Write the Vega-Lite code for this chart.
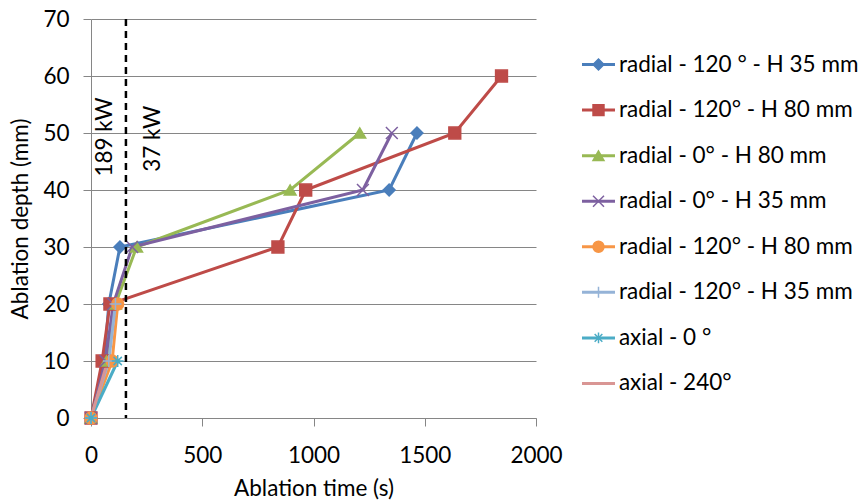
{
  "$schema": "https://vega.github.io/schema/vega-lite/v6.json",
  "padding": {"left": 9, "top": 8, "right": 0, "bottom": 0},
  "bounds": "flush",
  "spacing": 46,
  "config": {"font": "Lato", "view": {"stroke": null}},
  "datasets": {
    "pts": [
      {"id": "s1", "t": 0, "d": 0}, {"id": "s1", "t": 60, "d": 10}, {"id": "s1", "t": 80, "d": 20}, {"id": "s1", "t": 130, "d": 30}, {"id": "s1", "t": 1340, "d": 40}, {"id": "s1", "t": 1465, "d": 50},
      {"id": "s2", "t": 0, "d": 0}, {"id": "s2", "t": 50, "d": 10}, {"id": "s2", "t": 85, "d": 20}, {"id": "s2", "t": 840, "d": 30}, {"id": "s2", "t": 965, "d": 40}, {"id": "s2", "t": 1635, "d": 50}, {"id": "s2", "t": 1845, "d": 60},
      {"id": "s3", "t": 0, "d": 0}, {"id": "s3", "t": 70, "d": 10}, {"id": "s3", "t": 110, "d": 20}, {"id": "s3", "t": 205, "d": 30}, {"id": "s3", "t": 895, "d": 40}, {"id": "s3", "t": 1208, "d": 50},
      {"id": "s4", "t": 0, "d": 0}, {"id": "s4", "t": 65, "d": 10}, {"id": "s4", "t": 100, "d": 20}, {"id": "s4", "t": 185, "d": 30}, {"id": "s4", "t": 1222, "d": 40}, {"id": "s4", "t": 1352, "d": 50},
      {"id": "s5", "t": 0, "d": 0}, {"id": "s5", "t": 95, "d": 10}, {"id": "s5", "t": 120, "d": 20},
      {"id": "s6", "t": 0, "d": 0}, {"id": "s6", "t": 80, "d": 10}, {"id": "s6", "t": 110, "d": 20},
      {"id": "s7", "t": 0, "d": 0}, {"id": "s7", "t": 120, "d": 10},
      {"id": "s8", "t": 0, "d": 0}, {"id": "s8", "t": 75, "d": 10}
    ],
    "names": [
      {"id": "s1", "label": "radial - 120 ° - H 35 mm"},
      {"id": "s2", "label": "radial - 120° - H 80 mm"},
      {"id": "s3", "label": "radial - 0° - H 80 mm"},
      {"id": "s4", "label": "radial - 0° - H 35 mm"},
      {"id": "s5", "label": "radial - 120° - H 80 mm"},
      {"id": "s6", "label": "radial - 120° - H 35 mm"},
      {"id": "s7", "label": "axial - 0 °"},
      {"id": "s8", "label": "axial - 240°"}
    ],
    "one": [{}]
  },
  "hconcat": [
    {
      "width": 445,
      "height": 399,
      "layer": [
        {
          "data": {"name": "pts"},
          "mark": {"type": "line", "strokeWidth": 3},
          "encoding": {
            "x": {"field": "t", "type": "quantitative", "scale": {"domain": [0, 2000]},
              "axis": {"title": "Ablation time (s)", "values": [0, 500, 1000, 1500, 2000], "format": "d", "grid": false, "labelFontSize": 22.5, "titleFontSize": 22.5, "titleFontWeight": "normal", "labelColor": "#000", "titleColor": "#000", "domainColor": "#868686", "tickColor": "#868686", "tickSize": 8, "labelPadding": 18, "titlePadding": 11, "labelFlush": false}},
            "y": {"field": "d", "type": "quantitative", "scale": {"domain": [0, 70]},
              "axis": {"title": "Ablation depth (mm)", "values": [0, 10, 20, 30, 40, 50, 60, 70], "grid": true, "gridColor": "#868686", "labelFontSize": 22.5, "titleFontSize": 22.5, "titleFontWeight": "normal", "labelColor": "#000", "titleColor": "#000", "domainColor": "#868686", "tickColor": "#868686", "tickSize": 8, "labelPadding": 14, "titlePadding": 10}},
            "color": {"field": "id", "type": "nominal", "legend": null,
              "scale": {"domain": ["s1", "s2", "s3", "s4", "s5", "s6", "s7", "s8"], "range": ["#4A7EBB", "#BE4B48", "#98B954", "#7D60A0", "#F79646", "#95B3D7", "#4BACC6", "#D99694"]}}
          }
        },
        {
          "data": {"name": "pts"},
          "transform": [{"filter": "datum.id !== 's8'"}],
          "mark": {"type": "point", "filled": true, "opacity": 1, "strokeWidth": 1.5, "size": 140},
          "encoding": {
            "x": {"field": "t", "type": "quantitative"},
            "y": {"field": "d", "type": "quantitative"},
            "color": {"field": "id", "type": "nominal", "legend": null},
            "stroke": {"field": "id", "type": "nominal", "legend": null,
              "scale": {"domain": ["s1", "s2", "s3", "s4", "s5", "s6", "s7", "s8"], "range": ["#4A7EBB", "#BE4B48", "#98B954", "#7D60A0", "#F79646", "#95B3D7", "#4BACC6", "#D99694"]}},
            "shape": {"field": "id", "type": "nominal", "legend": null,
              "scale": {"domain": ["s1", "s2", "s3", "s4", "s5", "s6", "s7"], "range": ["diamond", "square", "triangle-up", "M-1,-1L1,1M-1,1L1,-1", "circle", "M-1,0L1,0M0,-1L0,1", "M-1,0L1,0M0,-1L0,1M-0.7,-0.7L0.7,0.7M-0.7,0.7L0.7,-0.7"]}}
          }
        },
        {
          "data": {"name": "one"},
          "mark": {"type": "rule", "strokeDash": [7, 5], "strokeWidth": 2.5, "color": "#000"},
          "encoding": {"x": {"datum": 157, "type": "quantitative"}}
        },
        {
          "data": {"name": "one"},
          "mark": {"type": "text", "text": "189 kW", "angle": 270, "fontSize": 22.5, "align": "center", "baseline": "middle", "color": "#000"},
          "encoding": {"x": {"datum": 63, "type": "quantitative"}, "y": {"datum": 49.3, "type": "quantitative"}}
        },
        {
          "data": {"name": "one"},
          "mark": {"type": "text", "text": "37 kW", "angle": 270, "fontSize": 22.5, "align": "center", "baseline": "middle", "color": "#000"},
          "encoding": {"x": {"datum": 277, "type": "quantitative"}, "y": {"datum": 49, "type": "quantitative"}}
        }
      ]
    },
    {
      "width": 282,
      "height": 410,
      "data": {"name": "names"},
      "layer": [
        {
          "mark": {"type": "rule", "strokeWidth": 3},
          "encoding": {
            "x": {"datum": 0, "type": "quantitative", "scale": {"domain": [0, 10]}, "axis": null},
            "x2": {"datum": 1.17},
            "y": {"field": "id", "type": "nominal", "scale": {"type": "point", "domain": ["s1", "s2", "s3", "s4", "s5", "s6", "s7", "s8"], "padding": 1}, "axis": null},
            "color": {"field": "id", "type": "nominal", "legend": null,
              "scale": {"domain": ["s1", "s2", "s3", "s4", "s5", "s6", "s7", "s8"], "range": ["#4A7EBB", "#BE4B48", "#98B954", "#7D60A0", "#F79646", "#95B3D7", "#4BACC6", "#D99694"]}}
          }
        },
        {
          "transform": [{"filter": "datum.id !== 's8'"}],
          "mark": {"type": "point", "filled": true, "opacity": 1, "strokeWidth": 1.5, "size": 120},
          "encoding": {
            "x": {"datum": 0.585, "type": "quantitative"},
            "y": {"field": "id", "type": "nominal"},
            "color": {"field": "id", "type": "nominal", "legend": null},
            "stroke": {"field": "id", "type": "nominal", "legend": null,
              "scale": {"domain": ["s1", "s2", "s3", "s4", "s5", "s6", "s7", "s8"], "range": ["#4A7EBB", "#BE4B48", "#98B954", "#7D60A0", "#F79646", "#95B3D7", "#4BACC6", "#D99694"]}},
            "shape": {"field": "id", "type": "nominal", "legend": null,
              "scale": {"domain": ["s1", "s2", "s3", "s4", "s5", "s6", "s7"], "range": ["diamond", "square", "triangle-up", "M-1,-1L1,1M-1,1L1,-1", "circle", "M-1,0L1,0M0,-1L0,1", "M-1,0L1,0M0,-1L0,1M-0.7,-0.7L0.7,0.7M-0.7,0.7L0.7,-0.7"]}}
          }
        },
        {
          "mark": {"type": "text", "fontSize": 22.5, "align": "left", "baseline": "middle", "color": "#000"},
          "encoding": {
            "x": {"datum": 1.31, "type": "quantitative"},
            "y": {"field": "id", "type": "nominal"},
            "text": {"field": "label"}
          }
        }
      ]
    }
  ]
}
